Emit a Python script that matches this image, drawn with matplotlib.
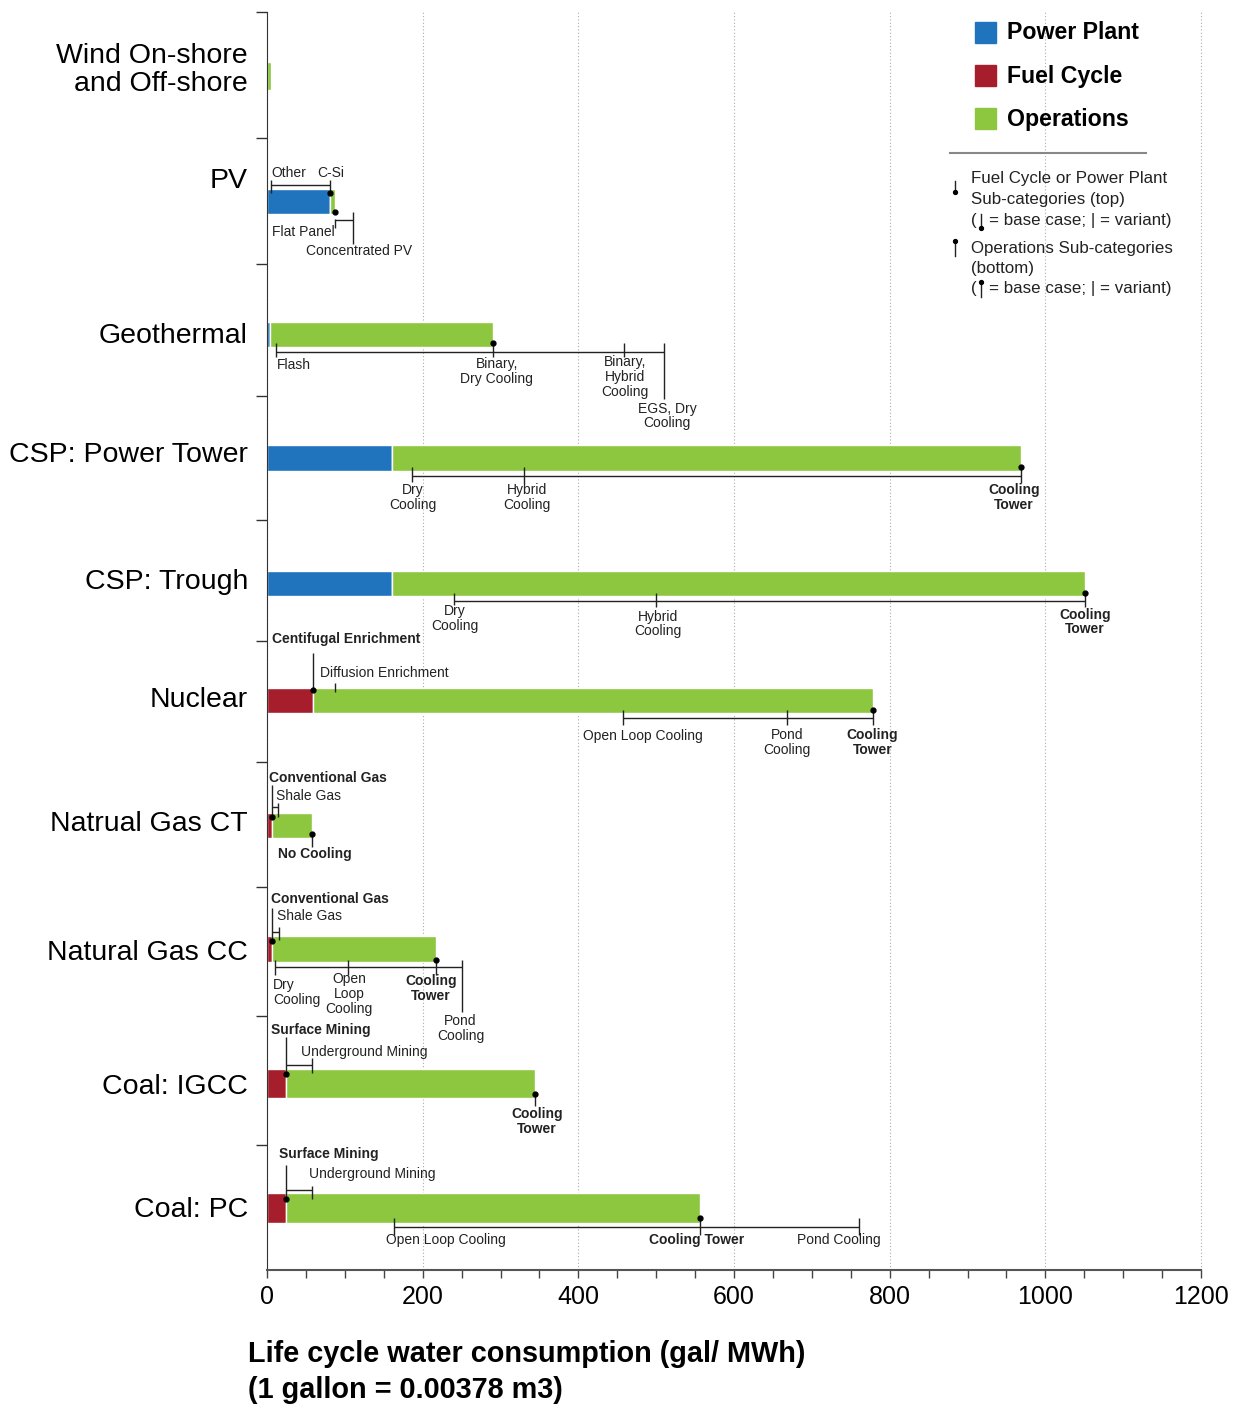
import matplotlib.pyplot as plt
from matplotlib.patches import Rectangle

plt.rcParams['font.family'] = ['Liberation Sans', 'DejaVu Sans']

W, H = 1239, 1405

# ---- data (gal/MWh) ----
categories = ["Wind On-shore\nand Off-shore", "PV", "Geothermal", "CSP: Power Tower",
              "CSP: Trough", "Nuclear", "Natrual Gas CT", "Natural Gas CC",
              "Coal: IGCC", "Coal: PC"]
power_plant = [0, 81, 4, 161, 161, 0, 0, 0, 0, 0]
fuel_cycle = [0, 0, 0, 0, 0, 59, 7, 6, 24, 24]
operations = [5.5, 6, 286, 808, 890, 719, 51, 211, 320, 532]

legend_labels = ["Power Plant", "Fuel Cycle", "Operations"]

# sub-categories: values are positions on the axis
pv_top_labels = ["Other", "C-Si"]
pv_top_values = [5, 81]
pv_ops_labels = ["Flat Panel", "Concentrated PV"]
pv_ops_values = [87, 110]

geo_ops_labels = ["Flash", "Binary,\nDry Cooling", "Binary,\nHybrid\nCooling", "EGS, Dry\nCooling"]
geo_ops_values = [12, 290, 459, 510]

tower_ops_labels = ["Dry\nCooling", "Hybrid\nCooling", "Cooling\nTower"]
tower_ops_values = [186, 330, 969]

trough_ops_labels = ["Dry\nCooling", "Hybrid\nCooling", "Cooling\nTower"]
trough_ops_values = [240, 500, 1051]

nuc_fuel_labels = ["Centifugal Enrichment", "Diffusion Enrichment"]
nuc_fuel_values = [59, 87]
nuc_ops_labels = ["Open Loop Cooling", "Pond\nCooling", "Cooling\nTower"]
nuc_ops_values = [457, 668, 778]

ct_fuel_labels = ["Conventional Gas", "Shale Gas"]
ct_fuel_values = [7, 14]
ct_ops_labels = ["No Cooling"]
ct_ops_values = [58]

cc_fuel_labels = ["Conventional Gas", "Shale Gas"]
cc_fuel_values = [6, 15]
cc_ops_labels = ["Dry\nCooling", "Open\nLoop\nCooling", "Cooling\nTower", "Pond\nCooling"]
cc_ops_values = [10, 104, 217, 250]

igcc_fuel_labels = ["Surface Mining", "Underground Mining"]
igcc_fuel_values = [25, 58]
igcc_ops_labels = ["Cooling\nTower"]
igcc_ops_values = [344]

pc_fuel_labels = ["Surface Mining", "Underground Mining"]
pc_fuel_values = [25, 58]
pc_ops_labels = ["Open Loop Cooling", "Cooling Tower", "Pond Cooling"]
pc_ops_values = [163, 556, 761]

# ---- layout / style ----
BLUE, RED, GREEN = '#1f74bd', '#a61d2b', '#8dc63f'
LINE = '#222222'
row_y = [76, 201, 334, 458, 583, 700, 825, 949, 1083, 1208]
bar_h = [28, 25, 25, 26, 25, 25, 25, 26, 29, 30]
label_dy = [-6, -20, 2, -3, -1, 0, -1, 4, 4, 2]
separators = [12, 138, 264, 396, 520, 641, 762, 887, 1016, 1145]
PX = 1200 / 934  # data units per pixel

fig = plt.figure(figsize=(W / 100, H / 100), dpi=100)
ax = fig.add_axes([267 / W, 135 / H, 934 / W, 1258 / H])
ax.set_xlim(0, 1200)
ax.set_ylim(1270, 12)

left_fc = [p + f for p, f in zip(power_plant, fuel_cycle)]
ax.barh(row_y, power_plant, height=bar_h, color=BLUE, edgecolor='white', lw=1, zorder=2)
ax.barh(row_y, fuel_cycle, left=power_plant, height=bar_h, color=RED, edgecolor='white', lw=1, zorder=2)
ax.barh(row_y, operations, left=left_fc, height=bar_h, color=GREEN, edgecolor='white', lw=1, zorder=2)

for s in ['top', 'right']:
    ax.spines[s].set_visible(False)
ax.spines['left'].set_color('#333333')
ax.spines['bottom'].set_color('#555555')
ax.spines['bottom'].set_linewidth(1.5)
ax.set_yticks(separators)
ax.set_yticklabels([])
ax.tick_params(axis='y', length=8, width=1, color='#333333')
ax.set_xticks(range(0, 1201, 200))
ax.set_xticks(range(0, 1201, 50), minor=True)
ax.tick_params(axis='x', which='both', length=6, width=1, color='#444444', labelsize=18, pad=5)
ax.xaxis.grid(True, linestyle=(0, (1, 2)), color='#aaaaaa', lw=0.8)
for gl in ax.get_xgridlines():
    gl.set_clip_on(False)
ax.set_axisbelow(True)

for name, r, dy in zip(categories, row_y, label_dy):
    ax.text(-19 * PX, r + dy, name, ha='right', va='center', fontsize=20.5,
            linespacing=1.1, clip_on=False)


def vline(x, y0, y1):
    ax.plot([x, x], [y0, y1], color=LINE, lw=1, solid_capstyle='butt', zorder=4)


def hline(x0, x1, y):
    ax.plot([x0, x1], [y, y], color=LINE, lw=1, solid_capstyle='butt', zorder=4)


def dot(x, y):
    ax.plot(x, y, 'o', ms=3.5, color='black', zorder=5)


def label(x, y, s, dx=0, ha='center', bold=False):
    ax.text(x + dx * PX, y, s, ha=ha, va='center', fontsize=10, linespacing=1.05,
            fontweight='bold' if bold else 'normal', color='#222222', zorder=6)


def ops_group(i, values, labels, base, line_dy, top, bots, specs, bold_base=True):
    r = row_y[i]
    if len(values) > 1:
        hline(min(values), max(values), r + line_dy)
    for k, v in enumerate(values):
        vline(v, r + top, r + bots[k])
        if k == base:
            dot(v, r + top)
        dx, dy, ha = specs[k]
        label(v, r + dy, labels[k], dx=dx, ha=ha, bold=(k == base and bold_base))


def fuel_group(i, values, labels, base_top, dot_dy, base_lab, var_lab, bracket_dy, var_tick):
    r = row_y[i]
    b, v = values
    vline(b, r + base_top, r + dot_dy)
    dot(b, r + dot_dy)
    label(b, r + base_lab[1], labels[0], dx=base_lab[0], ha='left', bold=True)
    if bracket_dy is not None:
        hline(b, v, r + bracket_dy)
    vline(v, r + var_tick[0], r + var_tick[1])
    label(v, r + var_lab[1], labels[1], dx=var_lab[0], ha='left')


# PV
r = row_y[1]
x0, x1 = pv_top_values
hline(x0, x1, r - 16)
vline(x0, r - 21, r - 8)
vline(x1, r - 21, r - 8)
dot(x1, r - 8)
label(x0, r - 28, pv_top_labels[0], ha='left')
label(x1, r - 28, pv_top_labels[1], dx=1)
fp, cpv = pv_ops_values
dot(fp, r + 11)
hline(fp, cpv, r + 19)
vline(fp, r + 18, r + 27)
vline(cpv, r + 11, r + 43)
label(fp, r + 31, pv_ops_labels[0], ha='right')
label(cpv, r + 50, pv_ops_labels[1], dx=6)

ops_group(2, geo_ops_values, geo_ops_labels, 1, 18, 9, [23, 23, 23, 65],
          [(1, 31, 'left'), (4, 37.5, 'center'), (1, 43, 'center'), (3, 82, 'center')],
          bold_base=False)
ops_group(3, tower_ops_values, tower_ops_labels, 2, 18, 9, [24, 25, 25],
          [(1, 39.5, 'center'), (3, 39.5, 'center'), (-7, 39.5, 'center')])
ops_group(4, trough_ops_values, trough_ops_labels, 2, 18, 10, [22, 24, 24],
          [(1, 35.5, 'center'), (2, 41, 'center'), (0, 39, 'center')])

fuel_group(5, nuc_fuel_values, nuc_fuel_labels, -47, -10, (-41, -61), (-15, -27), None, (-17, -8))
ops_group(5, nuc_ops_values, nuc_ops_labels, 2, 18, 10, [25, 25, 25],
          [(20, 36, 'center'), (0, 42.5, 'center'), (0, 42.5, 'center')])

fuel_group(6, ct_fuel_values, ct_fuel_labels, -40, -8, (-3.4, -47), (-2, -29), -18, (-22, -8))
ops_group(6, ct_ops_values, ct_ops_labels, 0, 0, 9, [22], [(3, 29, 'center')])

fuel_group(7, cc_fuel_values, cc_fuel_labels, -41, -8, (-1, -50), (-2, -33), -17, (-22, -9))
ops_group(7, cc_ops_values, cc_ops_labels, 2, 18, 11, [26, 26, 26, 63],
          [(-2, 43.5, 'left'), (1, 45, 'center'), (-5, 39.5, 'center'), (-1, 79.5, 'center')])

fuel_group(8, igcc_fuel_values, igcc_fuel_labels, -46, -9, (-15.5, -53), (-11, -31), -18, (-25, -10))
ops_group(8, igcc_ops_values, igcc_ops_labels, 0, 0, 11, [23], [(2, 38.5, 'center')])

fuel_group(9, pc_fuel_values, pc_fuel_labels, -43, -9, (-7.5, -54), (-3, -34), -18, (-22, -9))
ops_group(9, pc_ops_values, pc_ops_labels, 1, 19, 10, [27, 27, 27],
          [(52, 32, 'center'), (-3, 32, 'center'), (-20, 32, 'center')])

# ---- overlay in pixel coordinates: legend, notes, x label ----
ov = fig.add_axes([0, 0, 1, 1], zorder=10)
ov.set_xlim(0, W)
ov.set_ylim(H, 0)
ov.axis('off')
ov.patch.set_alpha(0)

for k, (lab, col) in enumerate(zip(legend_labels, [BLUE, RED, GREEN])):
    ov.add_patch(Rectangle((975, 22 + 43 * k), 21, 21, color=col))
    ov.text(1007, 32.5 + 43.5 * k, lab, fontsize=16.7, fontweight='bold', va='center', ha='left')
ov.plot([950, 1146], [153, 153], color='#888888', lw=1.5)


def note_mark(x, y0, y1, dot_top):
    ov.plot([x, x], [y0, y1], color=LINE, lw=1)
    ov.plot(x, y0 if dot_top else y1, 'o', ms=2.8, color='black')


notes = [("Fuel Cycle or Power Plant", "Sub-categories (top)", 179, False),
         ("Operations Sub-categories", "(bottom)", 248, True)]
for l1, l2, y, top in notes:
    ov.text(971, y, l1, fontsize=12.2, va='center', color='#222222')
    ov.text(971, y + 20.5, l2, fontsize=12.2, va='center', color='#222222')
    ov.text(971, y + 41, "(", fontsize=12.2, va='center', color='#222222')
    ov.text(989, y + 41, "= base case; | = variant)", fontsize=12.2, va='center', color='#222222')
    if top:
        note_mark(955, y - 7, y + 8, True)
        note_mark(981, y + 34, y + 49, True)
    else:
        note_mark(955, y + 2, y + 13, False)
        note_mark(981, y + 35, y + 49, False)

ov.text(248, 1372, "Life cycle water consumption (gal/ MWh)\n(1 gallon = 0.00378 m3)",
        fontsize=20.8, fontweight='bold', ha='left', va='center', linespacing=1.4)

fig.savefig('out.png', dpi=100)
